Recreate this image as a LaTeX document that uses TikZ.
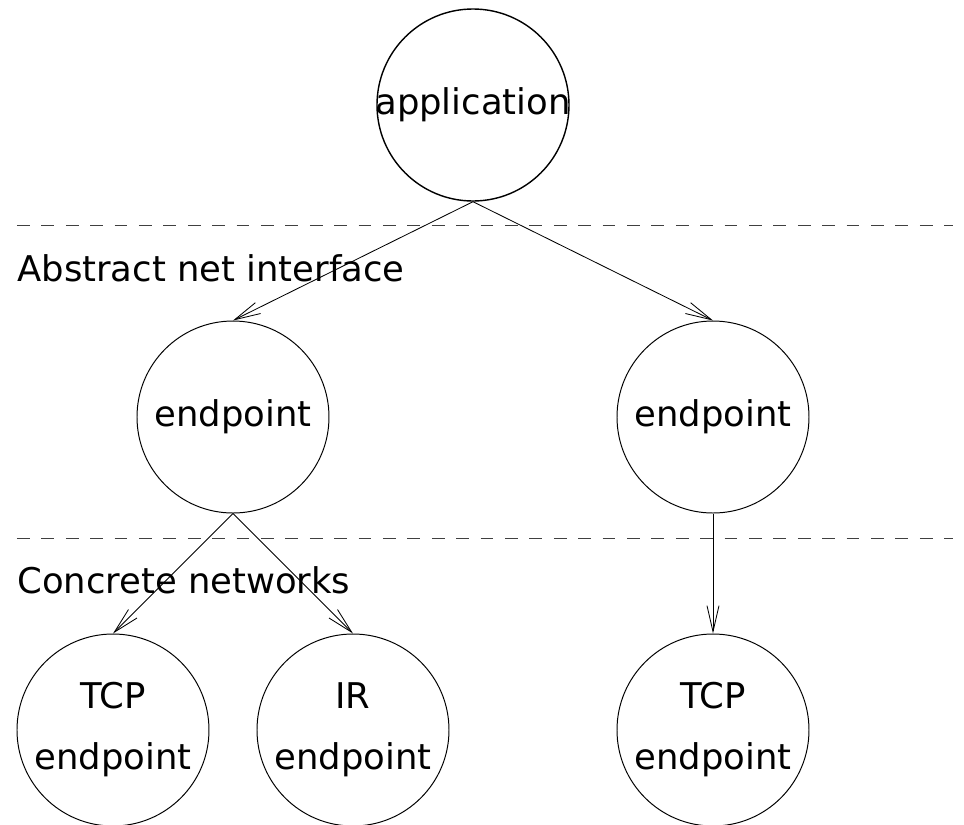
\documentclass[tikz,border=0pt]{standalone}
\usepackage{fontspec}
\setmainfont{DejaVu Sans}
\usepackage{tikz}
\usetikzlibrary{positioning}
\usetikzlibrary{arrows.meta}
\tikzstyle{net edge}=[->,line width=0.6pt]
\tikzstyle{net unit}=[circle,draw,line width=0.7pt,inner sep=0pt,minimum size=4.8cm,align=center,
  font=\fontsize{25.2}{43.4}\selectfont]
\tikzstyle{layer line}=[draw=black!75,line width=0.7pt,dash pattern=on 0.32cm off 0.29cm]
\tikzstyle{layer name}=[anchor=base west,inner sep=0pt,font=\fontsize{25.2}{30}\selectfont]
\newcommand{\netnode}[3][]{
  \node [net unit, #1] (#2) {#3}
}

\begin{document}
\begin{tikzpicture}[node distance=1cm, >={Straight Barb[length=6.5mm,width=3mm]}]
        \useasboundingbox (-11.825,2.625) rectangle (12.275,-17.975);
        \netnode[line width=1pt]{app}{\makebox[0pt]{application}};
        \netnode[on grid, below left=7.8cm and 6cm of app]{absA}{endpoint};
        \netnode[on grid, below right=7.8cm and 6cm of app]{absB}{endpoint};
                \netnode[on grid, below left=7.825cm and 3cm of absA]{tcpA}{TCP\\endpoint};
                \netnode[on grid, below right=7.825cm and 3cm of absA]{irA}{IR\\endpoint};
                \netnode[on grid, below=7.825cm of absB]{tcpB}{TCP\\endpoint};

        % layer boundaries
        \draw[layer line] (-11.4,-3) -- (12,-3);
        \draw[layer line] (-11.4,-10.825) -- (12,-10.825);
        \node[layer name] (absname) at (-11.4,-4.4) {Abstract net interface};
        \node[layer name] (conname) at (-11.4,-12.2) {Concrete networks};

                    \draw[net edge] (app.south) -- (absA.north);
                    \draw[net edge] (app.south) -- (absB.north);

            \draw[net edge] (absA.south) -- (tcpA.north);
            \draw[net edge] (absA.south) -- (irA.north);
            \draw[net edge] (absB.south) -- (tcpB.north);
        \end{tikzpicture}
\end{document}
